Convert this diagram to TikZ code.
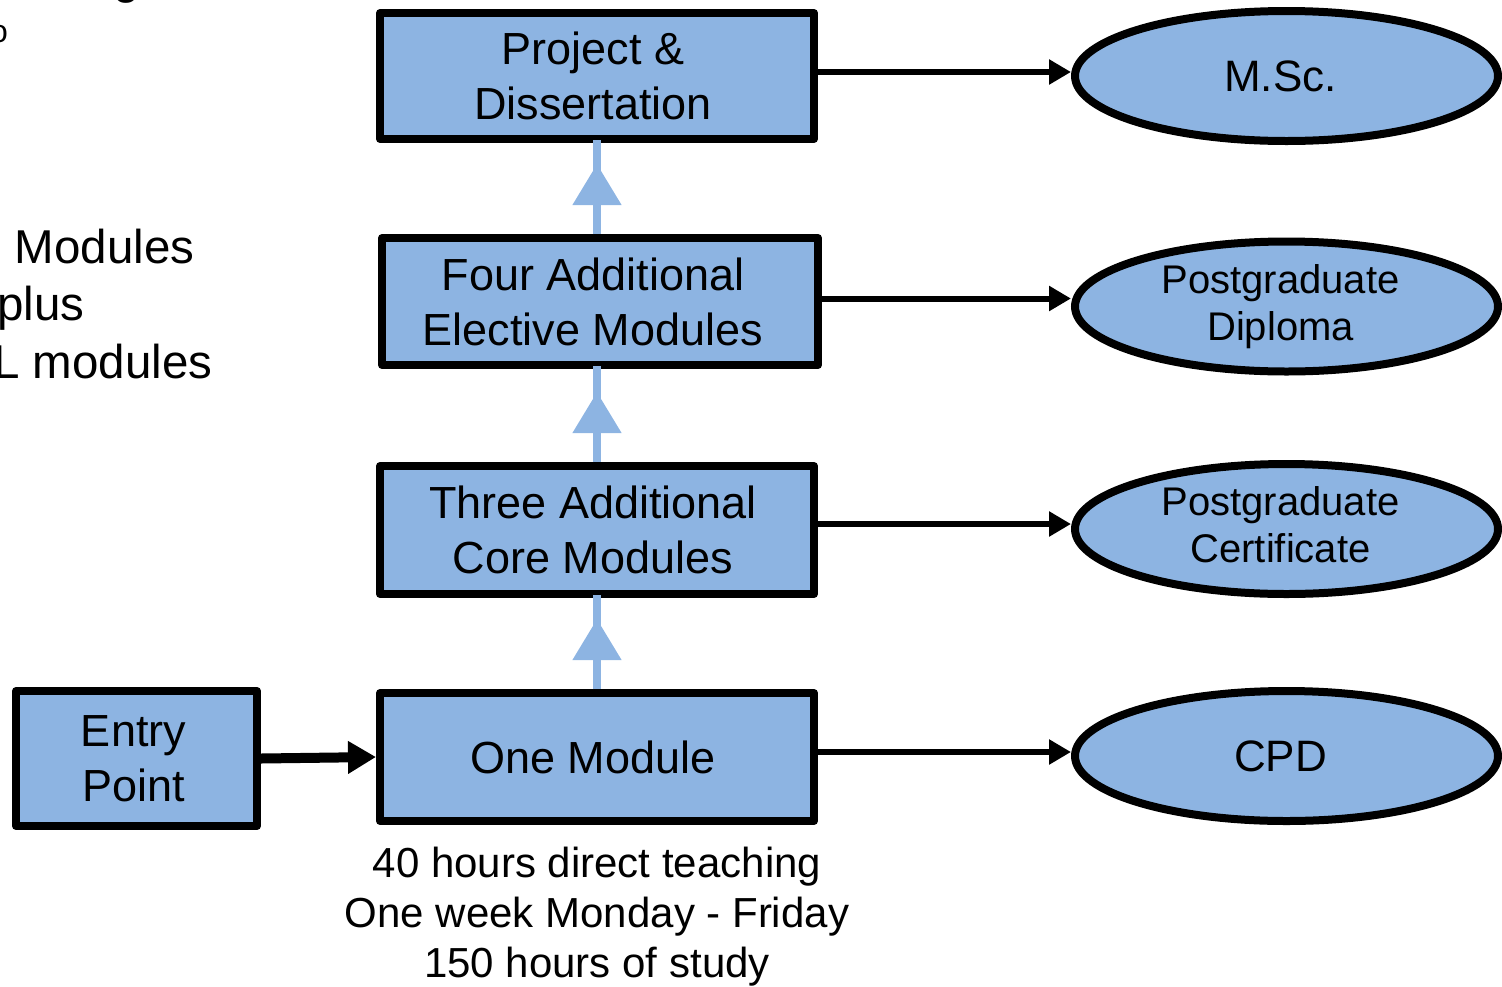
\documentclass[tikz,border=0pt]{standalone}
\usepackage{fontspec}
\setmainfont{Liberation Sans}
\usetikzlibrary{arrows.meta,shapes.geometric,decorations.markings}
\definecolor{boxblue}{RGB}{141,180,226}
\begin{document}
\begin{tikzpicture}[x=1pt,y=-1pt,
  box/.style={draw=black,fill=boxblue,line width=8pt,rectangle,inner sep=0pt,line join=round},
  boxtext/.style={align=center,inner sep=0pt,xshift=-4pt,font=\fontsize{45}{55}\selectfont},
  oval/.style={draw=black,fill=boxblue,line width=8pt,ellipse,inner sep=0pt,minimum width=423pt,minimum height=130pt},
  ovaltext/.style={align=center,inner sep=0pt,xshift=-6pt,font=\fontsize{40}{47}\selectfont},
  bigovaltext/.style={ovaltext,font=\fontsize{44}{52}\selectfont},
  link/.style={line width=6pt,-{Triangle[length=22pt,width=24pt]}},
  entrylink/.style={line width=10pt,-{Triangle[length=28pt,width=31pt]}},
  uplink/.style={draw=boxblue,line width=8pt,postaction={decorate},decoration={markings,mark=at position 70pt with {\arrow[boxblue]{Triangle[length=41pt,width=47pt]}}}},
  side/.style={anchor=base west,inner sep=0pt,font=\fontsize{47.5}{57}\selectfont},
  notes/.style={anchor=north,align=center,inner sep=0pt,font=\fontsize{42}{50}\selectfont},
]
\useasboundingbox (0,0) rectangle (1502,986);
\clip (0,0) rectangle (1502,986);

% cut-off text at the left edge
\node[side] (s1) at (14.5,263) {Modules};
\node[side] (s2) at (-3,320) {plus};
\node[side] (s3) at (-7,378) {L modules};
\node[side] (s4) at (113,-7) {g};
\node[side,font=\fontsize{32}{38}\selectfont] (s5) at (-10,42) {o};

% boxes
\node[box,minimum width=434pt,minimum height=126pt,label={[boxtext]center:Project \&\\Dissertation}] (P) at (597,76) {};
\node[box,minimum width=436pt,minimum height=127pt,label={[boxtext,xshift=-3pt]center:Four Additional\\Elective Modules}] (F) at (600,301.5) {};
\node[box,minimum width=434pt,minimum height=128pt,label={[boxtext]center:Three Additional\\Core Modules}] (T) at (597,530) {};
\node[box,minimum width=434pt,minimum height=128pt,label={[boxtext]center:One Module}] (O) at (597,757) {};
\node[box,minimum width=241pt,minimum height=135pt,label={[boxtext,xshift=1pt]center:Entry\\Point}] (E) at (136.5,758.5) {};

% awards
\node[oval,label={[bigovaltext]center:M.Sc.}] (M) at (1286.5,76) {};
\node[oval,label={[ovaltext]center:Postgraduate\\Diploma}] (D) at (1286.5,306.5) {};
\node[oval,label={[ovaltext]center:Postgraduate\\Certificate\vphantom{p}}] (C) at (1286.5,529) {};
\node[oval,label={[bigovaltext]center:CPD}] (X) at (1286.5,756) {};

% notes
\node[notes] (N) at (597,847) {40 hours direct teaching\\One week Monday - Friday\\150 hours of study};

% progression arrows
\path[uplink] (O.north) -- ([yshift=3pt]T.south);
\path[uplink] (T.north) -- ([yshift=3pt]T.north |- F.south);
\path[uplink] (P.south |- F.north) -- ([yshift=3pt]P.south);

% award arrows
\draw[link] ([yshift=4pt]P.east) -- ([yshift=4pt]P.east -| M.west);
\draw[link] ([yshift=3pt]F.east) -- ([yshift=3pt]F.east -| D.west);
\draw[link] ([yshift=6pt]T.east) -- ([yshift=6pt]T.east -| C.west);
\draw[link] ([yshift=5pt]O.east) -- ([yshift=5pt]O.east -| X.west);

% entry
\draw[entrylink] (E.east) -- (O.west);
\end{tikzpicture}
\end{document}
